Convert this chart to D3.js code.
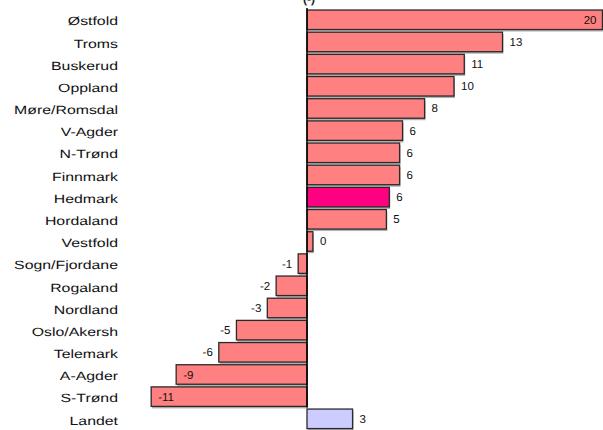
<!DOCTYPE html>
<html>
<head>
<meta charset="utf-8">
<script src="https://cdn.jsdelivr.net/npm/d3@7"></script>
<style>
  body { margin: 0; background: #fff; }
  svg { display: block; }
  text { font-family: "Liberation Sans", Arial, sans-serif; text-rendering: geometricPrecision; -webkit-font-smoothing: antialiased; }
</style>
</head>
<body>
<div id="chart"></div>
<script>
// DATA
var categories = ["Østfold", "Troms", "Buskerud", "Oppland", "Møre/Romsdal", "V-Agder", "N-Trønd",
  "Finnmark", "Hedmark", "Hordaland", "Vestfold", "Sogn/Fjordane", "Rogaland", "Nordland",
  "Oslo/Akersh", "Telemark", "A-Agder", "S-Trønd", "Landet"];
var values = [20.1, 13.3, 10.7, 10.0, 8.0, 6.5, 6.3, 6.3, 5.6, 5.4, 0.4, -0.6, -2.1, -2.7,
  -4.8, -6.0, -8.9, -10.6, 3.1];
var valueLabels = ["20", "13", "11", "10", "8", "6", "6", "6", "6", "5", "0", "-1", "-2", "-3",
  "-5", "-6", "-9", "-11", "3"];
var highlight = "Hedmark";
var total = "Landet";
var title = "(-)";

// SETUP
var W = 603, H = 430;
var svg = d3.select("#chart").append("svg")
  .attr("width", W)
  .attr("height", H);

var x = d3.scaleLinear().domain([-11, 20.3]).range([145.3, 605.4]);
var y = d3.scaleBand()
  .domain(categories)
  .range([8.7, 429.9])
  .paddingInner(0.12)
  .paddingOuter(0.06);

function fillOf(c) {
  if (c === highlight) return "#ff0080";
  if (c === total) return "#ccccff";
  return "#ff8080";
}

var rows = categories.map(function (c, i) {
  return { cat: c, value: values[i], label: valueLabels[i] };
});

// title, cut off by the top edge like in the original
svg.append("text")
  .attr("x", x(0) + 2)
  .attr("y", 3)
  .attr("text-anchor", "middle")
  .attr("font-size", 12)
  .attr("font-weight", "bold")
  .attr("fill", "#222")
  .text(title);

// shadows
svg.selectAll(".shadow")
  .data(rows)
  .enter().append("rect")
  .attr("class", "shadow")
  .attr("x", function (d) { return Math.min(x(0), x(d.value)) + 1; })
  .attr("y", function (d) { return y(d.cat) + 2; })
  .attr("width", function (d) { return Math.abs(x(d.value) - x(0)); })
  .attr("height", y.bandwidth())
  .attr("fill", "#b0b0b0");

// bars
svg.selectAll(".bar")
  .data(rows)
  .enter().append("rect")
  .attr("class", "bar")
  .attr("x", function (d) { return Math.min(x(0), x(d.value)); })
  .attr("y", function (d) { return y(d.cat); })
  .attr("width", function (d) { return Math.abs(x(d.value) - x(0)); })
  .attr("height", y.bandwidth())
  .attr("fill", function (d) { return fillOf(d.cat); })
  .attr("stroke", "#2a2a2a")
  .attr("stroke-width", 1.3);

// zero line
svg.append("line")
  .attr("x1", x(0)).attr("x2", x(0))
  .attr("y1", y(categories[0]) - 2)
  .attr("y2", y(categories[categories.length - 2]) + y.bandwidth() + 1)
  .attr("stroke", "#000")
  .attr("stroke-width", 1.5);

// category labels (wide, stretched look)
svg.selectAll(".cat")
  .data(rows)
  .enter().append("text")
  .attr("class", "cat")
  .attr("x", 118)
  .attr("y", function (d) { return y(d.cat) + y.bandwidth() / 2 + 1.5; })
  .attr("dy", "0.35em")
  .attr("text-anchor", "end")
  .attr("font-size", 12)
  .attr("fill", "#111")
  .text(function (d) { return d.cat; })
  .each(function () {
    var len = this.getComputedTextLength();
    d3.select(this).attr("textLength", len * 1.32).attr("lengthAdjust", "spacingAndGlyphs");
  });

// value labels
svg.selectAll(".val")
  .data(rows)
  .enter().append("text")
  .attr("class", "val")
  .attr("y", function (d) { return y(d.cat) + y.bandwidth() / 2; })
  .attr("dy", "0.35em")
  .attr("font-size", 11.5)
  .attr("fill", "#111")
  .text(function (d) { return d.label; })
  .each(function (d) {
    var t = d3.select(this);
    var xe = x(d.value);
    var inside = d.value >= 0 ? xe + 25 > W : d.value < -8;
    if (d.value >= 0) {
      if (inside) t.attr("x", xe - 6).attr("text-anchor", "end");
      else t.attr("x", xe + 7).attr("text-anchor", "start");
    } else {
      if (inside) t.attr("x", xe + 7).attr("text-anchor", "start");
      else t.attr("x", xe - 6).attr("text-anchor", "end");
    }
  });
</script>
</body>
</html>
